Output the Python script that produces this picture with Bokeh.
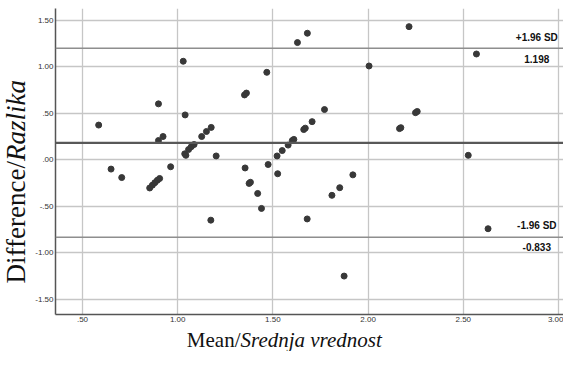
import math
from bokeh.plotting import figure
from bokeh.layouts import row, column
from bokeh.models import Range1d, FixedTicker, Span, Label
from bokeh.core.properties import value
from bokeh.embed import file_html
from bokeh.resources import INLINE

# ---- data ----
mean_x = [0.585, 0.650, 0.706, 0.853, 0.867, 0.880, 0.893, 0.905, 0.899, 0.899,
          0.923, 0.963, 1.029, 1.037, 1.043, 1.039, 1.057, 1.071, 1.086, 1.126,
          1.151, 1.176, 1.202, 1.174, 1.351, 1.361, 1.354, 1.375, 1.382, 1.420,
          1.440, 1.468, 1.475, 1.522, 1.525, 1.549, 1.580, 1.602, 1.610, 1.629,
          1.662, 1.670, 1.681, 1.680, 1.706, 1.771, 1.810, 1.851, 1.874, 1.920,
          2.005, 2.165, 2.172, 2.215, 2.249, 2.258, 2.526, 2.569, 2.630]
diff_y = [0.373, -0.100, -0.191, -0.303, -0.273, -0.246, -0.221, -0.201, 0.207, 0.601,
          0.250, -0.075, 1.059, 0.064, 0.048, 0.482, 0.110, 0.140, 0.164, 0.250,
          0.304, 0.348, 0.041, -0.649, 0.697, 0.717, -0.088, -0.254, -0.242, -0.362,
          -0.523, 0.940, -0.051, 0.041, -0.150, 0.099, 0.158, 0.207, 0.219, 1.260,
          0.325, 0.340, 1.360, -0.636, 0.410, 0.540, -0.382, -0.300, -1.250, -0.162,
          1.008, 0.335, 0.345, 1.431, 0.506, 0.519, 0.048, 1.137, -0.741]

x_ticks = [0.5, 1.0, 1.5, 2.0, 2.5, 3.0]
x_tick_labels = [".50", "1.00", "1.50", "2.00", "2.50", "3.00"]
y_ticks = [-1.5, -1.0, -0.5, 0.0, 0.5, 1.0, 1.5]
y_tick_labels = ["-1.50", "-1.00", "-.50", ".00", ".50", "1.00", "1.50"]

upper_loa = 1.198
lower_loa = -0.833
mean_diff = 0.1825
upper_text = "+1.96 SD"
lower_text = "-1.96 SD"
x_title = ("Mean/", "Srednja vrednost")
y_title = ("Difference/", "Razlika")

# ---- layout (pixels) ----
TOTAL_W, TOTAL_H = 563, 351
Y_FONT, X_FONT = 27, 21
LEFT_W = 31            # strip holding the y title
MAIN_W = TOTAL_W - LEFT_W
BOTTOM_H = 24          # strip holding the x title
MAIN_H = TOTAL_H - BOTTOM_H
BL, BT, BB = 24, 8, 13  # main figure borders
FRAME_W = MAIN_W - BL
FRAME_H = MAIN_H - BT - BB
PX_X = 190.4
X0 = 0.5 - 27 / PX_X
X1 = X0 + FRAME_W / PX_X
Y0, Y1 = -1.663, 1.626
PX_Y = FRAME_H / (Y1 - Y0)

p = figure(width=MAIN_W, height=MAIN_H, x_range=Range1d(X0, X1), y_range=Range1d(Y0, Y1),
           output_backend="svg", toolbar_location=None,
           min_border_left=BL, min_border_right=0, min_border_top=BT, min_border_bottom=BB)
p.outline_line_color = None
p.background_fill_color = "white"
p.border_fill_color = "white"

p.xaxis.ticker = FixedTicker(ticks=x_ticks)
p.xaxis.major_label_overrides = dict(zip(x_ticks, x_tick_labels))
p.yaxis.ticker = FixedTicker(ticks=y_ticks)
p.yaxis.major_label_overrides = dict(zip(y_ticks, y_tick_labels))
for ax in (p.xaxis, p.yaxis):
    ax.axis_line_color = "#555555"
    ax.axis_line_width = 1.5
    ax.major_tick_line_color = None
    ax.minor_tick_line_color = None
    ax.major_tick_out = 0
    ax.major_tick_in = 0
    ax.major_label_text_font = "Liberation Sans"
    ax.major_label_text_font_size = "8px"
    ax.major_label_text_color = "#333333"
p.xaxis.major_label_standoff = 2
p.yaxis.major_label_standoff = 2

p.grid.grid_line_color = "#c6c6c6"
p.grid.grid_line_width = 1.3

p.add_layout(Span(location=upper_loa, dimension="width", line_color="#8e8e8e", line_width=1.6))
p.add_layout(Span(location=lower_loa, dimension="width", line_color="#8e8e8e", line_width=1.6))
p.add_layout(Span(location=mean_diff, dimension="width", line_color="#585858", line_width=2.2))

p.scatter(mean_x, diff_y, size=6, color="#383838")

lab_x = 2.886
lab_kw = dict(text_align="center", text_baseline="middle", text_font="Liberation Sans",
              text_font_style="bold", text_font_size="10px", text_color="#111111")
p.add_layout(Label(x=lab_x, y=upper_loa + 10.5 / PX_Y, text=upper_text, **lab_kw))
p.add_layout(Label(x=lab_x, y=upper_loa - 10.5 / PX_Y, text=f"{upper_loa:.3f}", **lab_kw))
p.add_layout(Label(x=lab_x, y=lower_loa + 11.5 / PX_Y, text=lower_text, **lab_kw))
p.add_layout(Label(x=lab_x, y=lower_loa - 10 / PX_Y, text=f"{lower_loa:.3f}", **lab_kw))


def strip(w, h):
    f = figure(width=w, height=h, x_range=Range1d(0, w), y_range=Range1d(0, h),
               output_backend="svg", toolbar_location=None,
               x_axis_type=None, y_axis_type=None,
               min_border_left=0, min_border_right=0, min_border_top=0, min_border_bottom=0)
    f.outline_line_color = None
    f.grid.visible = False
    f.background_fill_color = "white"
    f.border_fill_color = "white"
    return f


SHIFT = 0.32    # observed drop of the rendered baseline below the anchor, in em
DESC = 0.216    # font descent, in em

# y title strip (left): baseline so that the descent box ends inside the strip
left = strip(LEFT_W, MAIN_H)
ly_x = (LEFT_W - DESC * Y_FONT - 0.6) - SHIFT * Y_FONT
ly_y = MAIN_H - 163
left.text(x=[ly_x], y=[ly_y], text=[y_title[0]], angle=math.pi / 2, text_align="right",
          text_baseline="alphabetic", text_font=value("Liberation Serif"),
          text_font_size=f"{Y_FONT}px", text_color="#111111")
left.text(x=[ly_x], y=[ly_y], text=[y_title[1]], angle=math.pi / 2, text_align="left",
          text_baseline="alphabetic", text_font=value("Liberation Serif"), text_font_style="italic",
          text_font_size=f"{Y_FONT}px", text_color="#111111")

# x title strip (bottom): split point at x=240
bottom = strip(TOTAL_W, BOTTOM_H)
bx = 240
by = (DESC * X_FONT + 0.5) + SHIFT * X_FONT
bottom.text(x=[bx], y=[by], text=[x_title[0]], text_align="right", text_baseline="alphabetic",
            text_font=value("Liberation Serif"), text_font_size=f"{X_FONT}px", text_color="#111111")
bottom.text(x=[bx], y=[by], text=[x_title[1]], text_align="left", text_baseline="alphabetic",
            text_font=value("Liberation Serif"), text_font_style="italic",
            text_font_size=f"{X_FONT}px", text_color="#111111")

layout = column(row(left, p, spacing=0), bottom, spacing=0)
open("out.html", "w").write(file_html(layout, INLINE))
